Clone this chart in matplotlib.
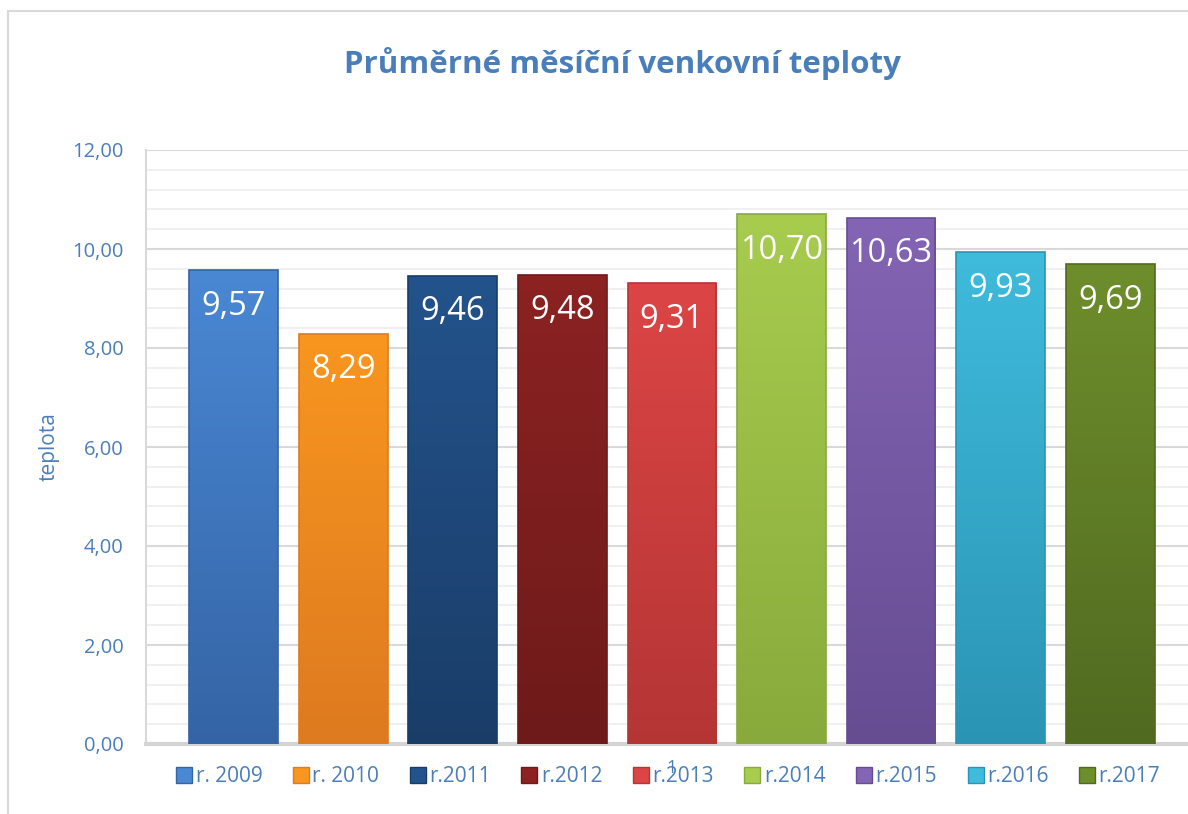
import numpy as np
import matplotlib
matplotlib.use("Agg")
import matplotlib.pyplot as plt
from matplotlib.colors import LinearSegmentedColormap, to_rgb
from matplotlib.patches import Rectangle
from matplotlib.lines import Line2D

plt.rcParams['font.family'] = ['Open Sans', 'DejaVu Sans']

years = ["r. 2009", "r. 2010", "r.2011", "r.2012", "r.2013",
         "r.2014", "r.2015", "r.2016", "r.2017"]
temps = [9.57, 8.29, 9.46, 9.48, 9.31, 10.70, 10.63, 9.93, 9.69]
labels = ["9,57", "8,29", "9,46", "9,48", "9,31", "10,70", "10,63", "9,93", "9,69"]
tops = ["#4a88d4", "#f8961f", "#23538c", "#8c2222", "#dc4545",
        "#a8cc4e", "#8464b4", "#3fbbdc", "#6e8e2c"]
bottoms = ["#3464a5", "#de7a1f", "#1a3d68", "#6e1a1a", "#b53535",
           "#88aa3c", "#664d92", "#2b94b4", "#506a20"]

blue = "#4a7ebb"

fig = plt.figure(figsize=(11.88, 8.14), dpi=100)
ax = fig.add_axes([146/1188, 70/814, 1 - 146/1188, 594/814])

x = np.arange(len(temps))
w = 0.81
bars = ax.bar(x, temps, width=w, color=tops, zorder=3)
for b, c1, c2 in zip(bars, tops, bottoms):
    cm = LinearSegmentedColormap.from_list("g", [to_rgb(c2), to_rgb(c1)])
    bx, by = b.get_x(), b.get_height()
    grad = np.linspace(0, 1, 256).reshape(-1, 1)
    im = ax.imshow(grad, extent=[bx, bx + w, 0, by], origin="lower",
                   cmap=cm, aspect="auto", zorder=3.5)
    im.set_clip_path(b)
    b.set_edgecolor(c2)
    b.set_linewidth(1.2)
    b.set_zorder(4)
    b.set_facecolor("none")

for xi, t, lab in zip(x, temps, labels):
    ax.annotate(lab, (xi, t), xytext=(0, -26), textcoords="offset points",
                ha="center", va="center", color="white", fontsize=23.5, zorder=6)

ax.set_xlim(-0.80, 8.71)
ax.set_ylim(0, 12)
ax.set_yticks(np.arange(0, 12.01, 2))
ax.set_yticklabels(["0,00", "2,00", "4,00", "6,00", "8,00", "10,00", "12,00"])
ax.set_yticks(np.arange(0, 12.01, 0.4), minor=True)
ax.set_xticks([])
ax.tick_params(axis="y", which="both", length=0, pad=16, labelcolor=blue, labelsize=14.5)
ax.grid(axis="y", which="major", color="#d9d9d9", lw=1.5, zorder=0)
ax.grid(axis="y", which="minor", color="#efefef", lw=1.3, zorder=0)
for s in ["top", "right"]:
    ax.spines[s].set_visible(False)
ax.spines["left"].set_color("#d9d9d9")
ax.spines["left"].set_linewidth(1.5)
ax.spines["bottom"].set_color("#d4d4d4")
ax.spines["bottom"].set_linewidth(3)
ax.set_ylabel("teplota", color=blue, fontsize=15)
ax.yaxis.set_label_coords(-(146 - 60) / (1188 - 146), 0.5)

fig.text(622/1188, 1 - 63/814, "Průměrné měsíční venkovní teploty",
         ha="center", va="center", color=blue, fontsize=22.5, fontweight="bold")

handles = [Line2D([0], [0], marker="s", ls="none", markersize=11,
                  markerfacecolor=c, markeredgecolor=d) for c, d in zip(tops, bottoms)]
leg = fig.legend(handles, years, loc="center", bbox_to_anchor=(668/1188, 1 - 777/814),
                 ncol=9, frameon=False, fontsize=15, handletextpad=0.15,
                 columnspacing=1.45, handlelength=0.8)
for t in leg.get_texts():
    t.set_color(blue)

fig.text(672/1188, 1 - 768/814, "1", ha="center", va="center", color=blue, fontsize=13)

fig.add_artist(Rectangle((8/1188, -0.1), 1.2, 1 - 11/814 + 0.1, transform=fig.transFigure,
                         fill=False, edgecolor="#d9d9d9", lw=1.5))

fig.savefig("out.png", dpi=100)
